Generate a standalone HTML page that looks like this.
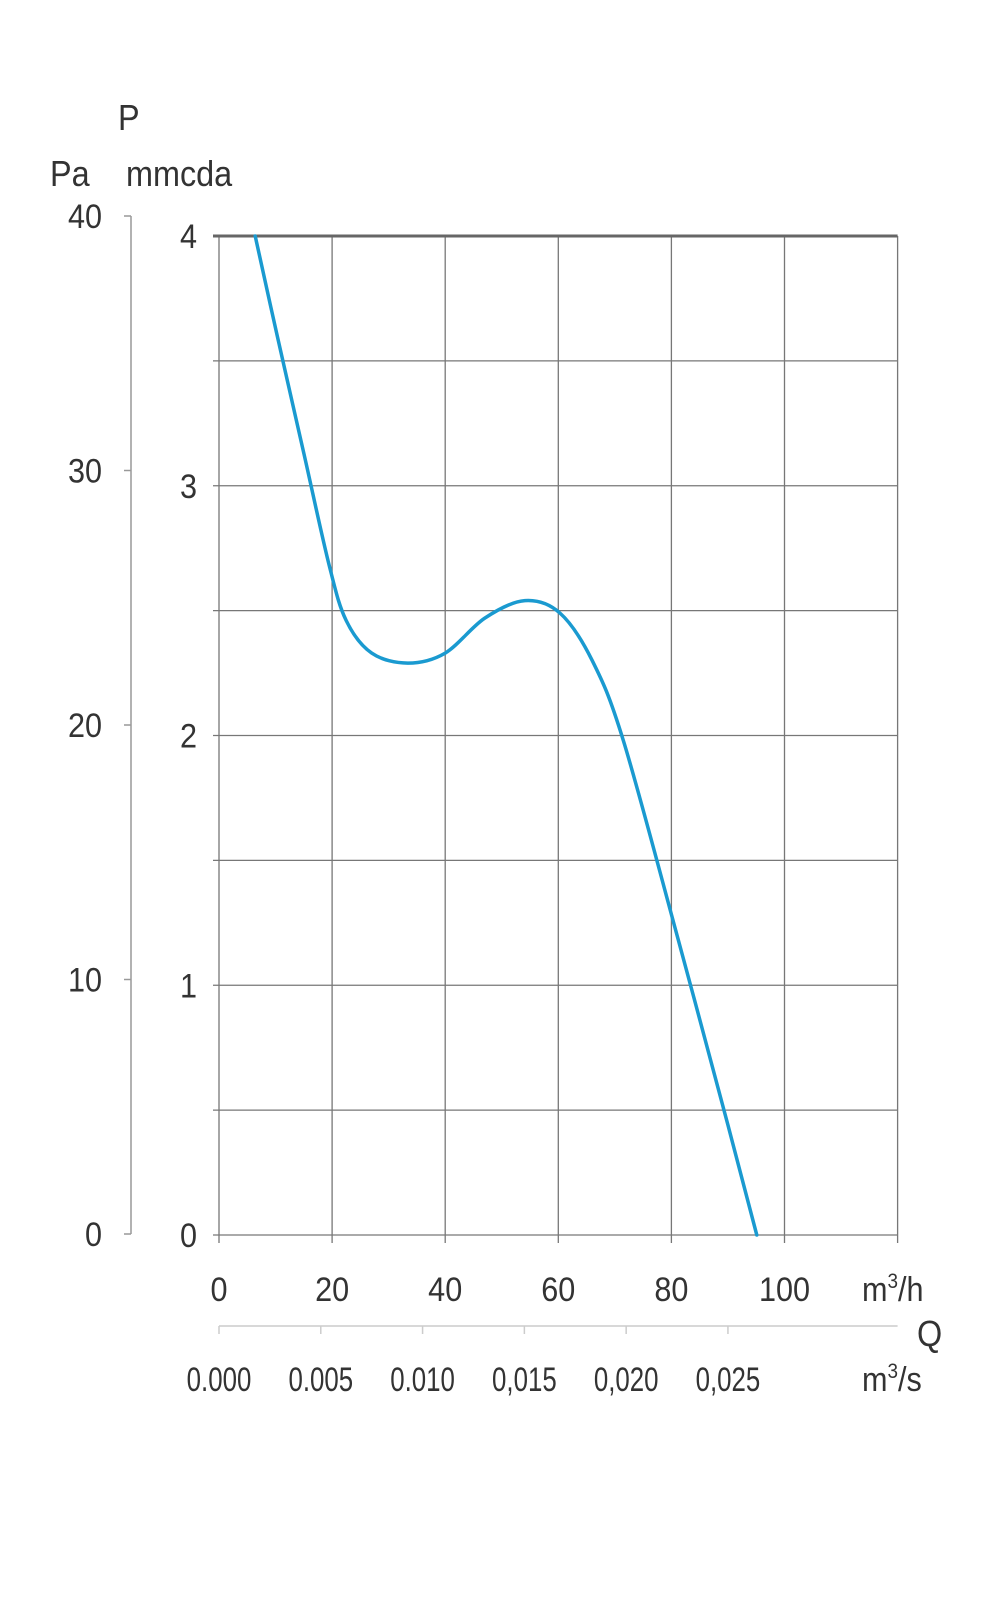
<!DOCTYPE html>
<html><head><meta charset="utf-8"><style>
html,body{margin:0;padding:0;background:#fff;}
svg text{font-family:"Liberation Sans",sans-serif;fill:#333;}
</style></head><body>
<svg width="1000" height="1600" viewBox="0 0 1000 1600" xmlns="http://www.w3.org/2000/svg">
<g id="grid"></g>
<g id="axes"></g>
<path id="curve" fill="none" stroke="#1a9ad0" stroke-width="3.5" stroke-linecap="round"/>
</svg>
<script>
const qValues = [6.4, 10.3, 15, 19.5, 22.5, 27, 33.4, 40, 47, 54.1, 60.3, 66, 71.5, 81, 90, 95.1];
const pValues = [4.0, 3.6, 3.13, 2.68, 2.46, 2.33, 2.29, 2.33, 2.47, 2.54, 2.49, 2.3, 1.98, 1.2, 0.44, 0.0];
const xTicks = [0, 20, 40, 60, 80, 100];
const yTicksMm = [0, 1, 2, 3, 4];
const yTicksPa = [0, 10, 20, 30, 40];
const sTicks = ["0.000", "0.005", "0.010", "0,015", "0,020", "0,025"];
const sTickVals = [0, 0.005, 0.010, 0.015, 0.020, 0.025];

const NS = "http://www.w3.org/2000/svg";
const X0 = 219, XPX = 113.1/20, Y0 = 1235, YPX = 249.75;
const xs = q => X0 + q*XPX;
const ys = p => Y0 - p*YPX;
const yPa = v => 1234 - v*(1234-216)/40;
function mk(tag, attrs, parent, txt){
  const e = document.createElementNS(NS, tag);
  for (const k in attrs) e.setAttribute(k, attrs[k]);
  if (txt !== undefined) e.textContent = txt;
  parent.appendChild(e); return e;
}
const grid = document.getElementById('grid');
const axes = document.getElementById('axes');
for (let q = 0; q <= 120; q += 20) {
  const l = mk('line', {x1: xs(q), x2: xs(q), y1: ys(4), y2: ys(0)+8, stroke: '#777', 'stroke-width': 1.3}, grid);
  
  
}
for (let p = 0; p <= 4; p += 0.5) {
  const l = mk('line', {x1: xs(0)-6, x2: xs(120), y1: ys(p), y2: ys(p), stroke: p===4 ? '#666' : '#777', 'stroke-width': p===4 ? 3 : 1.3}, grid);
  
  
}
yTicksMm.forEach(v => {
  const t = mk('text', {x: 0, y: 0, 'font-size': 34, 'text-anchor': 'end', transform: `translate(197,${ys(v)+12}) scale(0.9,1)`}, axes, String(v));
  
  
});
const pa = mk('line', {x1: 131, x2: 131, y1: yPa(40), y2: yPa(0), stroke: '#999', 'stroke-width': 1.5}, axes);


yTicksPa.forEach(v => {
  const tk = mk('line', {x1: 124, x2: 131, y1: yPa(v), y2: yPa(v), stroke: '#999', 'stroke-width': 1.5}, axes);
  
  
  const t = mk('text', {x: 0, y: 0, 'font-size': 34, 'text-anchor': 'end', transform: `translate(102,${yPa(v)+12}) scale(0.9,1)`}, axes, String(v));
  
  
});
xTicks.forEach(v => {
  const t = mk('text', {x: 0, y: 0, 'font-size': 34, 'text-anchor': 'middle', transform: `translate(${xs(v)},1301) scale(0.9,1)`}, axes, String(v));
  
  
});
const sa = mk('line', {x1: xs(0), x2: xs(120), y1: 1326, y2: 1326, stroke: '#ccc', 'stroke-width': 1.5}, axes);


sTickVals.forEach((v, i) => {
  const x = xs(v*3600);
  const tk = mk('line', {x1: x, x2: x, y1: 1326, y2: 1334, stroke: '#ccc', 'stroke-width': 1.5}, axes);
  
  
  const t = mk('text', {x: 0, y: 0, 'font-size': 34, 'text-anchor': 'middle', transform: `translate(${x},1391) scale(0.76,1)`}, axes, sTicks[i]);
  
  
});
const titles = [
  ['P', 118, 130, 'p-axis-title'],
  ['Pa', 50, 186, 'pa-unit-title'],
  ['mmcda', 126, 186, 'mmcda-unit-title'],
  ['Q', 917, 1346, 'q-axis-title']
];
titles.forEach(([s, x, y, n]) => {
  const t = mk('text', {x: 0, y: 0, 'font-size': 36, transform: `translate(${x},${y}) scale(0.9,1)`}, axes, s);
  
  
});
const u1 = mk('text', {x: 0, y: 0, 'font-size': 34, transform: 'translate(862,1301) scale(0.9,1)'}, axes);


u1.innerHTML = 'm<tspan dy="-13" font-size="21">3</tspan><tspan dy="13">/h</tspan>';
const u2 = mk('text', {x: 0, y: 0, 'font-size': 34, transform: 'translate(862,1391) scale(0.9,1)'}, axes);


u2.innerHTML = 'm<tspan dy="-13" font-size="21">3</tspan><tspan dy="13">/s</tspan>';
const pts = qValues.map((q, i) => [xs(q), ys(pValues[i])]);
let d = `M${pts[0][0]},${pts[0][1]}`;
for (let i = 0; i < pts.length-1; i++) {
  const p0 = pts[Math.max(0,i-1)], p1 = pts[i], p2 = pts[i+1], p3 = pts[Math.min(pts.length-1,i+2)];
  const c1 = [p1[0]+(p2[0]-p0[0])/6, p1[1]+(p2[1]-p0[1])/6];
  const c2 = [p2[0]-(p3[0]-p1[0])/6, p2[1]-(p3[1]-p1[1])/6];
  d += ` C${c1[0]},${c1[1]} ${c2[0]},${c2[1]} ${p2[0]},${p2[1]}`;
}
document.getElementById('curve').setAttribute('d', d);
</script>
</body></html>
